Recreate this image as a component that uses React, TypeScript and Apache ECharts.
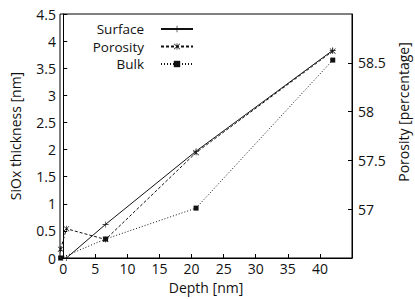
import React, { useEffect, useRef } from "react";
import * as echarts from "echarts";

const seriesNames = ["Surface", "Porosity", "Bulk"];
const surfaceDepth = [0.5, 6.6, 20.7, 42];
const surfaceThickness = [0, 0.62, 1.97, 3.83];
const porosityDepth = [-0.4, 0.5, 6.6, 20.7, 42];
const porosityValue = [56.59, 56.8, 56.69, 57.58, 58.62];
const bulkDepth = [-0.4, 6.6, 20.7, 42];
const bulkThickness = [0, 0.35, 0.92, 3.65];
const xTicks = [0, 5, 10, 15, 20, 25, 30, 35, 40];
const rightTicks = [57, 57.5, 58, 58.5];

const PLUS = "path://M4.5,0H5.5V4.5H10V5.5H5.5V10H4.5V5.5H0V4.5H4.5Z";
const STAR =
  "path://M1,0.3L5,4.3L9,0.3L9.7,1L5.7,5L9.7,9L9,9.7L5,5.7L1,9.7L0.3,9L4.3,5L0.3,1Z M4.5,0H5.5V10H4.5Z";

const zip = (a: number[], b: number[]) => a.map((v, i) => [v, b[i]]);

export default function App() {
  const ref = useRef<HTMLDivElement>(null);
  useEffect(() => {
    if (!ref.current) return;
    const chart = echarts.init(ref.current, undefined, { renderer: "svg" });
    const font = "'Open Sans', 'Noto Sans', sans-serif";
    const ink = "#111";
    const legendRows = [22, 39.5, 57];
    chart.setOption({
      animation: false,
      textStyle: { fontFamily: font },
      grid: {
        left: 60,
        right: 63,
        top: 14,
        bottom: 40,
        show: true,
        borderColor: "#000",
        borderWidth: 1,
      },
      legend: seriesNames.map((n, i) => ({
        data: [n],
        align: "right",
        right: 221,
        top: legendRows[i],
        padding: 0,
        itemWidth: 32,
        itemHeight: 8,
        textStyle: {
          fontSize: 13.5,
          lineHeight: 14,
          color: ink,
          fontFamily: font,
          padding: [0, 12, 0, 0],
        },
      })),
      graphic: [
        {
          type: "text",
          x: 403,
          y: 112,
          rotation: Math.PI / 2,
          style: {
            text: "Porosity [percentage]",
            fontSize: 14,
            fontFamily: font,
            fill: ink,
            align: "center",
            verticalAlign: "middle",
          },
        },
      ],
      xAxis: {
        type: "value",
        min: -0.5,
        max: 45,
        splitLine: { show: false },
        axisLine: { lineStyle: { color: "#000" } },
        axisTick: { inside: true, length: 4, customValues: xTicks, lineStyle: { color: "#000" } },
        axisLabel: { customValues: xTicks, fontSize: 14, color: ink, margin: 3 },
        name: "Depth [nm]",
        nameLocation: "middle",
        nameGap: 22,
        nameTextStyle: { fontSize: 14, color: ink },
      },
      yAxis: [
        {
          type: "value",
          min: 0,
          max: 4.5,
          interval: 0.5,
          splitLine: { show: false },
          axisLine: { show: true, lineStyle: { color: "#000" } },
          axisTick: { show: true, inside: true, length: 4, lineStyle: { color: "#000" } },
          axisLabel: { fontSize: 14, color: ink, margin: 4 },
          name: "SiOx thickness [nm]",
          nameLocation: "middle",
          nameGap: 38,
          nameTextStyle: { fontSize: 14, color: ink },
        },
        {
          type: "value",
          position: "right",
          min: 56.5,
          max: 59,
          splitLine: { show: false },
          axisLine: { show: true, lineStyle: { color: "#000" } },
          axisTick: { show: true, inside: true, length: 4, customValues: rightTicks, lineStyle: { color: "#000" } },
          axisLabel: { customValues: rightTicks, fontSize: 14, color: ink, margin: 6 },
        },
      ],
      series: [
        {
          name: seriesNames[0],
          type: "line",
          data: zip(surfaceDepth, surfaceThickness),
          symbol: PLUS,
          symbolSize: 6,
          itemStyle: { color: ink },
          lineStyle: { color: ink, width: 1, type: "solid" },
        },
        {
          name: seriesNames[1],
          type: "line",
          yAxisIndex: 1,
          data: zip(porosityDepth, porosityValue),
          symbol: STAR,
          symbolSize: 6,
          itemStyle: { color: ink },
          lineStyle: { color: ink, width: 1, type: [3, 2] },
        },
        {
          name: seriesNames[2],
          type: "line",
          data: zip(bulkDepth, bulkThickness),
          symbol: "rect",
          symbolSize: 5,
          itemStyle: { color: ink },
          lineStyle: { color: ink, width: 1, type: [1, 2] },
        },
      ],
    });
    return () => chart.dispose();
  }, []);
  return (
    <div
      ref={ref}
      style={{ position: "fixed", left: 0, top: 0, width: 415, height: 299, background: "#fff" }}
    />
  );
}
